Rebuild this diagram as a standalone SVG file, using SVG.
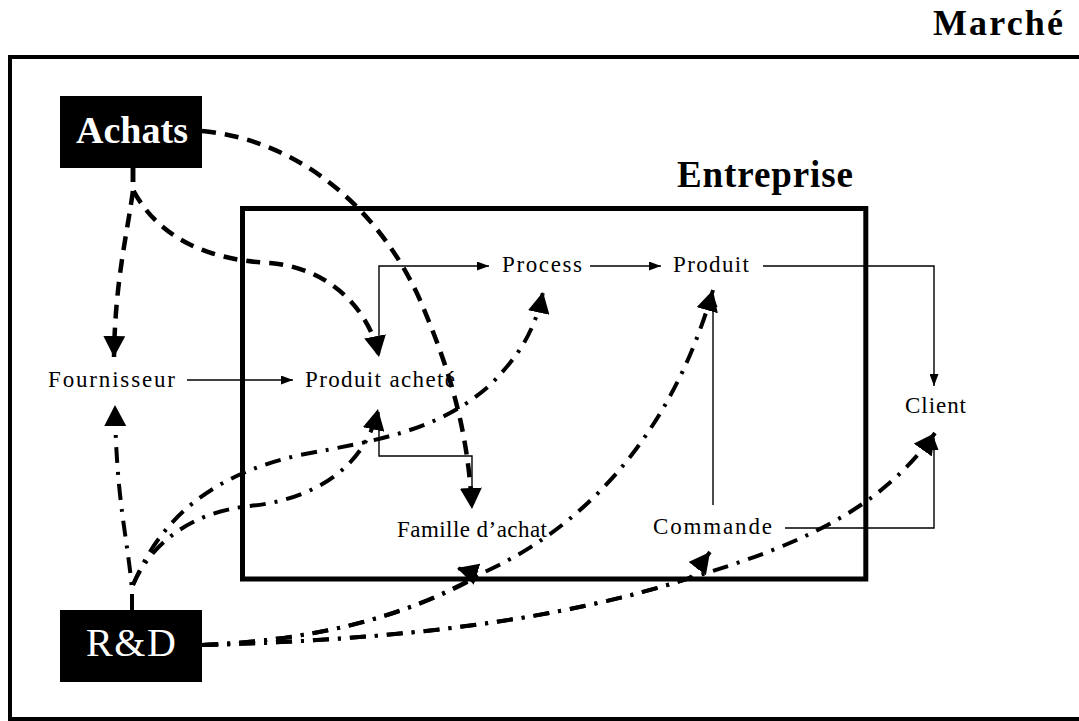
<svg xmlns="http://www.w3.org/2000/svg" width="1079" height="721" viewBox="0 0 1079 721">
<style>
.frame{fill:none;stroke:#000}
.lbl{font-family:"Liberation Serif","Times New Roman",serif;font-size:23px;fill:#000}
.big{font-family:"Liberation Serif","Times New Roman",serif;font-weight:bold;fill:#000}
.box{fill:#000}
.boxtxt{font-family:"Liberation Serif","Times New Roman",serif;fill:#fff}
.thin{fill:none;stroke:#000;stroke-width:1.4;marker-end:url(#sm)}
.dash{fill:none;stroke:#000;stroke-width:4.5;stroke-dasharray:14 9;marker-end:url(#bg)}
.dd{fill:none;stroke:#000;stroke-width:4;stroke-dasharray:16 9 3 9;marker-end:url(#bg)}
</style>
<defs>
<marker id="sm" markerUnits="userSpaceOnUse" viewBox="0 0 12 9" refX="12" refY="4.5" markerWidth="12" markerHeight="9" orient="auto"><path d="M0,0 L12,4.5 L0,9 z" fill="#000"/></marker>
<marker id="bg" markerUnits="userSpaceOnUse" viewBox="0 0 21 22" refX="21" refY="11" markerWidth="21" markerHeight="22" orient="auto"><path d="M0,0 L21,11 L0,22 z" fill="#000"/></marker>
</defs>
<rect width="1079" height="721" fill="#fff"/>
<g id="marche">
<rect class="frame" x="10" y="57" width="1090" height="662" stroke-width="4"/>
<text class="big" x="933" y="35" font-size="36" textLength="130" lengthAdjust="spacing">Marché</text>
</g>
<g id="entreprise">
<rect class="frame" x="242.5" y="208.5" width="623.3" height="370.5" stroke-width="5"/>
<text class="big" x="677" y="187" font-size="37" textLength="176" lengthAdjust="spacing">Entreprise</text>
</g>
<g id="achats">
<rect class="box" x="60" y="96" width="142" height="72"/>
<text class="boxtxt" x="76" y="143" font-size="38" font-weight="bold" textLength="112" lengthAdjust="spacing">Achats</text>
</g>
<g id="rd">
<rect class="box" x="60" y="610" width="142" height="72"/>
<text class="boxtxt" x="86" y="656" font-size="40" textLength="90" lengthAdjust="spacing">R&amp;D</text>
</g>
<g id="fournisseur"><text class="lbl" x="48" y="387" textLength="127" lengthAdjust="spacing">Fournisseur</text></g>
<g id="produit-achete"><text class="lbl" x="305" y="387" textLength="150" lengthAdjust="spacing">Produit acheté</text></g>
<g id="process"><text class="lbl" x="502" y="272" textLength="80" lengthAdjust="spacing">Process</text></g>
<g id="produit"><text class="lbl" x="673" y="272" textLength="76" lengthAdjust="spacing">Produit</text></g>
<g id="client"><text class="lbl" x="905" y="413" textLength="61" lengthAdjust="spacing">Client</text></g>
<g id="famille-achat"><text class="lbl" x="397" y="537" textLength="150" lengthAdjust="spacing">Famille d’achat</text></g>
<g id="commande"><text class="lbl" x="653" y="534" textLength="119" lengthAdjust="spacing">Commande</text></g>
<g id="connectors">
<path class="thin" d="M187,380 L293,380"/>
<path class="thin" d="M379,355 L379,266 L489,266"/>
<path class="thin" d="M590,266 L661,266"/>
<path class="thin" d="M763,266 L934,266 L934,386"/>
<path class="thin" d="M379,412 L379,456 L472,456 L472,506"/>
<path class="thin" d="M713,505 L713,295"/>
<path class="thin" d="M785,528 L934,528 L934,438"/>
<path class="dash" d="M202,131 C300,140 380,210 420,300 C450,370 468,430 472,509"/>
<path class="dash" d="M133,168 L133,190 C160,240 210,260 270,263 C330,268 370,310 379,357"/>
<path class="dash" d="M133,168 L133,190 C128,230 115,280 114,357"/>
<path class="dd" d="M132,610 L132,590 C128,540 116,500 115,405"/>
<path class="dd" d="M133,585 C150,545 190,512 250,506 C310,500 365,470 378,409"/>
<path class="dd" d="M133,585 C160,520 210,475 300,455 C380,440 440,430 490,385 C520,355 535,330 543,292"/>
<path class="dd" d="M202,645 C320,640 410,615 480,574 C580,530 670,440 713,290"/>
<path class="dd" d="M202,645 C320,640 410,615 480,575 L457,568"/>
<path class="dd" d="M202,645 C400,640 560,620 690,578 C800,545 880,510 935,433"/>
<path class="dd" d="M202,645 C400,640 560,620 690,578 L710,552"/>
</g>
</svg>
